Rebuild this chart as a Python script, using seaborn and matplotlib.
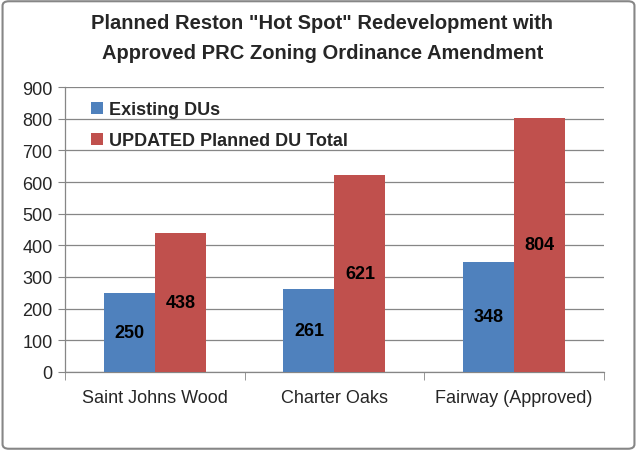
import pandas as pd
import matplotlib
matplotlib.use("Agg")
import matplotlib.pyplot as plt
import seaborn as sns
from matplotlib.patches import FancyBboxPatch

# chart data
communities = ["Saint Johns Wood", "Charter Oaks", "Fairway (Approved)"]
existing_dus = [250, 261, 348]
planned_dus = [438, 621, 804]
series_names = ["Existing DUs", "UPDATED Planned DU Total"]
y_ticks = [0, 100, 200, 300, 400, 500, 600, 700, 800, 900]

df = pd.DataFrame({
    "community": communities * 2,
    "series": [series_names[0]] * 3 + [series_names[1]] * 3,
    "value": existing_dus + planned_dus,
})

sns.set_style("white")
plt.rcParams["font.family"] = ["Liberation Sans", "DejaVu Sans"]

fig = plt.figure(figsize=(6.37, 4.52), dpi=100)
ax = fig.add_axes([0.102, 0.175, 0.846, 0.63])

sns.barplot(data=df, x="community", y="value", hue="series",
            palette=["#4F81BD", "#C0504D"], width=0.567, saturation=1,
            linewidth=0, ax=ax, zorder=3)

# value labels in the middle of each bar
for cont in ax.containers:
    for bar in cont:
        h = bar.get_height()
        ax.text(bar.get_x() + bar.get_width() / 2, h / 2, f"{h:.0f}",
                ha="center", va="center", fontsize=13, fontweight="bold",
                color="black", zorder=4)

ax.set_ylim(0, 900)
ax.set_yticks(y_ticks)
ax.set_xlim(-0.5, 2.5)
ax.yaxis.grid(True, color="#868686", linewidth=0.9, zorder=0)
ax.set_axisbelow(True)
ax.set_xlabel("")
ax.set_ylabel("")

for side in ["top", "right"]:
    ax.spines[side].set_visible(False)
for side in ["left", "bottom"]:
    ax.spines[side].set_color("#868686")
    ax.spines[side].set_linewidth(0.9)

ax.tick_params(axis="y", length=5, color="#868686", labelsize=13, pad=4, left=True)
ax.tick_params(axis="x", length=0, labelsize=13, pad=12)
# category separator ticks like excel
ax.set_xticks([-0.5, 0.5, 1.5, 2.5], minor=True)
ax.tick_params(axis="x", which="minor", length=6, color="#868686", bottom=True)

leg = ax.legend(loc="upper left", bbox_to_anchor=(0.035, 0.975), borderaxespad=0,
                frameon=False, handlelength=0.65, handleheight=0.65,
                handletextpad=0.35, labelspacing=0.75,
                prop={"weight": "bold", "size": 13})

fig.text(0.506, 0.948, 'Planned Reston "Hot Spot" Redevelopment with',
         ha="center", va="center", fontsize=14.5, fontweight="bold")
fig.text(0.506, 0.882, "Approved PRC Zoning Ordinance Amendment",
         ha="center", va="center", fontsize=14.5, fontweight="bold")

border = FancyBboxPatch((0.004, 0.005), 0.992, 0.99, boxstyle="round,pad=0,rounding_size=0.01",
                        transform=fig.transFigure, fill=False,
                        edgecolor="#868686", linewidth=1.5)
fig.patches.append(border)

fig.savefig("out.png", dpi=100)
